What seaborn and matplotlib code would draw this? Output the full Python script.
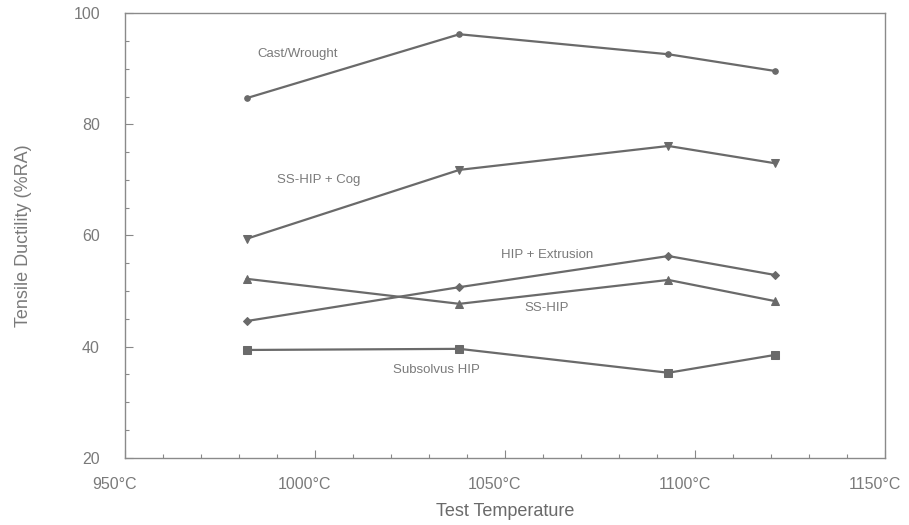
import pandas as pd
import matplotlib.pyplot as plt
import seaborn as sns
from matplotlib.ticker import MultipleLocator
from matplotlib.transforms import ScaledTranslation

# test temperatures (deg C) and reduction of area (%RA) per process
temps = [982, 1038, 1093, 1121]
cast_wrought = [84.7, 96.2, 92.6, 89.6]
ss_hip_cog = [59.4, 71.8, 76.1, 73.0]
hip_extrusion = [44.6, 50.7, 56.3, 52.9]
ss_hip = [52.2, 47.7, 52.0, 48.2]
subsolvus_hip = [39.4, 39.6, 35.3, 38.5]

series = {
    "Cast/Wrought": cast_wrought,
    "SS-HIP + Cog": ss_hip_cog,
    "HIP + Extrusion": hip_extrusion,
    "SS-HIP": ss_hip,
    "Subsolvus HIP": subsolvus_hip,
}

rows = []
for name, vals in series.items():
    for t, v in zip(temps, vals):
        rows.append({"Process": name, "Temp": t, "RA": v})
df = pd.DataFrame(rows)

sns.set_style("white")
plt.rcParams["font.family"] = ["Liberation Sans", "DejaVu Sans"]

line_col = "#6a6a6a"
text_col = "#7a7a7a"

fig = plt.figure(figsize=(9.09, 5.25), dpi=100)
ax = fig.add_axes([0.1375, 0.128, 0.836, 0.847])

markers = {
    "Cast/Wrought": "o",
    "SS-HIP + Cog": "v",
    "HIP + Extrusion": "D",
    "SS-HIP": "^",
    "Subsolvus HIP": "s",
}
sizes = {"Cast/Wrought": 4, "SS-HIP + Cog": 6, "HIP + Extrusion": 4.5,
         "SS-HIP": 6, "Subsolvus HIP": 6}

for name in series:
    sns.lineplot(
        data=df[df["Process"] == name], x="Temp", y="RA", ax=ax,
        color=line_col, linewidth=1.6, marker=markers[name],
        markersize=sizes[name], markeredgecolor=line_col, legend=False,
    )

# series labels
labels = [
    ("Cast/Wrought", 995.5, 92.6),
    ("SS-HIP + Cog", 1001, 70.0),
    ("HIP + Extrusion", 1061, 56.5),
    ("SS-HIP", 1061, 47.0),
    ("Subsolvus HIP", 1032, 35.8),
]
for txt, x, y in labels:
    ax.text(x, y, txt, fontsize=9.5, color=text_col, ha="center", va="center")

ax.set_xlim(950, 1150)
ax.set_ylim(20, 100)
ax.xaxis.set_minor_locator(MultipleLocator(10))
ax.yaxis.set_major_locator(MultipleLocator(20))
ax.yaxis.set_minor_locator(MultipleLocator(5))
ax.set_xticks([950, 1000, 1050, 1100, 1150])
ax.set_xticklabels(["950°C", "1000°C", "1050°C", "1100°C", "1150°C"])

ax.tick_params(which="both", direction="in", bottom=True, left=True,
               colors="#888888", labelcolor=text_col, labelsize=11.5)
ax.tick_params(which="major", length=6, width=0.8)
ax.tick_params(which="minor", length=3, width=0.8)
ax.tick_params(axis="x", pad=14)
ax.tick_params(axis="y", pad=18)

# tick labels in the original sit a little left of their ticks
shift = ScaledTranslation(-10 / 100, 0, fig.dpi_scale_trans)
for lbl in ax.get_xticklabels():
    lbl.set_transform(lbl.get_transform() + shift)

for sp in ax.spines.values():
    sp.set_color("#8a8a8a")
    sp.set_linewidth(1.0)

ax.set_xlabel("Test Temperature", fontsize=13, color="#6a6a6a", labelpad=8)
ax.set_ylabel("Tensile Ductility (%RA)", fontsize=13, color="#7a7a7a", labelpad=30)

fig.savefig("out.png", dpi=100)
